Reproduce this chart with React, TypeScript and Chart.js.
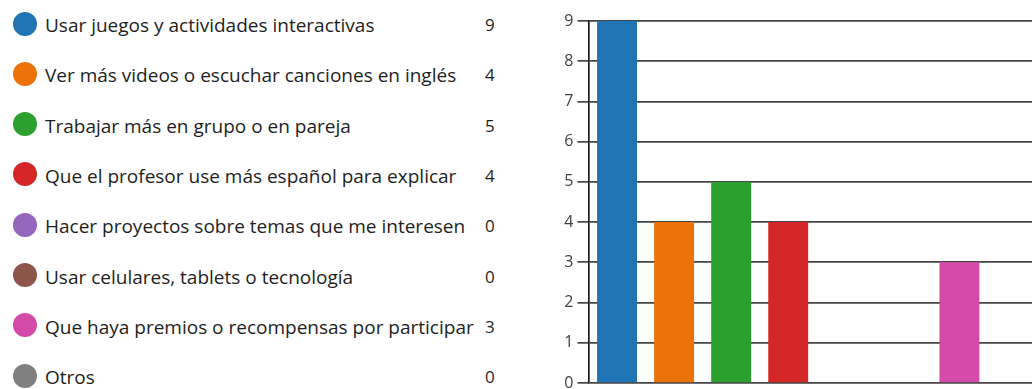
import React, { useEffect, useRef } from "react";
import { Chart, registerables } from "chart.js";

Chart.register(...registerables);

const categories = [
  "Usar juegos y actividades interactivas",
  "Ver más videos o escuchar canciones en inglés",
  "Trabajar más en grupo o en pareja",
  "Que el profesor use más español para explicar",
  "Hacer proyectos sobre temas que me interesen",
  "Usar celulares, tablets o tecnología",
  "Que haya premios o recompensas por participar",
  "Otros",
];
const counts = [9, 4, 5, 4, 0, 0, 3, 0];
const colors = [
  "#1f74b3",
  "#ec7108",
  "#2ca02f",
  "#d62728",
  "#9467bd",
  "#8c564b",
  "#d44aa8",
  "#808080",
];
const yMin = 0;
const yMax = 9;

const LEGEND_FONT = "'Open Sans', 'Noto Sans', sans-serif";

export default function App() {
  const canvasRef = useRef<HTMLCanvasElement | null>(null);

  useEffect(() => {
    const canvas = canvasRef.current;
    if (!canvas) return;
    const chart = new Chart(canvas, {
      type: "bar",
      data: {
        labels: categories,
        datasets: [
          {
            data: counts,
            backgroundColor: colors,
            borderWidth: 0,
            barPercentage: 0.7,
            categoryPercentage: 1.0,
          },
        ],
      },
      options: {
        animation: false,
        responsive: false,
        maintainAspectRatio: false,
        devicePixelRatio: 1,
        layout: { padding: { top: 21, bottom: 0, left: 0, right: 0 } },
        plugins: {
          legend: { display: false },
          tooltip: { enabled: false },
        },
        scales: {
          x: {
            display: false,
          },
          y: {
            min: yMin,
            max: yMax,
            ticks: {
              stepSize: 1,
              color: "#404040",
              padding: 4,
              font: { family: "'Open Sans', sans-serif", size: 16, lineHeight: 1 },
            },
            grid: {
              color: "#454545",
              lineWidth: 1.7,
              tickLength: 11,
              drawTicks: true,
            },
            border: { display: true, color: "#1a1a1a", width: 1.7 },
            afterFit: (s: any) => {
              s.width = 68.5;
            },
          },
        },
      },
    });
    return () => chart.destroy();
  }, []);

  const rowTop = 25;
  const rowGap = 50.3;

  return (
    <div
      style={{
        position: "fixed",
        left: 0,
        top: 0,
        width: 1032,
        height: 389,
        overflow: "hidden",
        background: "#ffffff",
      }}
    >
      {categories.map((c, i) => {
        const cy = rowTop + i * rowGap;
        return (
          <React.Fragment key={c}>
            <div
              style={{
                position: "absolute",
                left: 12.5,
                top: cy - 1.5 - 12,
                width: 24,
                height: 24,
                borderRadius: "50%",
                background: colors[i],
              }}
            />
            <div
              style={{
                position: "absolute",
                left: 45,
                top: cy - 14,
                height: 28,
                lineHeight: "28px",
                fontFamily: LEGEND_FONT,
                fontSize: 19,
                color: "#1e1e1e",
                whiteSpace: "nowrap",
              }}
            >
              {c}
            </div>
            <div
              style={{
                position: "absolute",
                left: 485,
                top: cy - 14,
                height: 28,
                lineHeight: "28px",
                fontFamily: LEGEND_FONT,
                fontSize: 17,
                color: "#1e1e1e",
              }}
            >
              {counts[i]}
            </div>
          </React.Fragment>
        );
      })}
      <canvas
        ref={canvasRef}
        width={525}
        height={395}
        style={{ position: "absolute", left: 520, top: 0, width: 525, height: 395 }}
      />
    </div>
  );
}
